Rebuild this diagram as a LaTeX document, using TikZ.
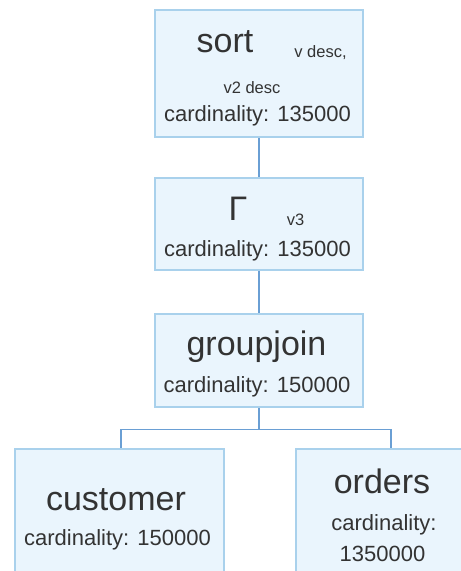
\documentclass[tikz,border=0pt]{standalone}
\usepackage{fontspec}
\setmainfont{Liberation Sans}
\definecolor{boxfill}{HTML}{EAF5FD}
\definecolor{boxline}{HTML}{A9D1EC}
\definecolor{connc}{HTML}{6A9FD4}
\definecolor{txt}{HTML}{333333}
\tikzset{
  opbox/.style={draw=boxline, fill=boxfill, line width=2.5pt, inner sep=0pt, rectangle},
  conn/.style={draw=connc, line width=1.3pt},
  big/.style={font=\fontsize{34}{40}\selectfont, text=txt, anchor=base, inner sep=0pt},
  card/.style={font=\fontsize{22}{26}\selectfont, text=txt, anchor=base, inner sep=0pt},
  subl/.style={font=\fontsize{16.5}{20}\selectfont, text=txt, anchor=base, inner sep=0pt}
}
\begin{document}
\begin{tikzpicture}[x=1pt,y=-1pt]
\useasboundingbox (0,0) rectangle (461,571);
\clip (0,0) rectangle (461,571);
% boxes
\node[opbox, minimum width=208pt, minimum height=127pt] (sort) at (259,73.5) {};
\node[opbox, minimum width=208pt, minimum height=92pt] (gamma) at (259,224) {};
\node[opbox, minimum width=208pt, minimum height=93pt] (gj) at (259,360.5) {};
\node[opbox, minimum width=209pt, minimum height=160pt] (cust) at (119.5,529) {};
\node[opbox, minimum width=174pt, minimum height=160pt] (ord) at (383,529) {};
% connectors
\draw[conn] (sort.south) -- (gamma.north);
\draw[conn] (gamma.south) -- (gj.north);
\draw[conn] (gj.south) -- ++(0,21) coordinate (mid);
\draw[conn] (mid) -| ([xshift=1.5pt]cust.north);
\draw[conn] (mid) -| ([xshift=8pt]ord.north);
% texts
\node[big] (tsort) at (225,52) {sort};
\node[subl] (tv) at (320.5,57) {v desc,};
\node[subl] (tv2) at (252,93) {v2 desc};
\node[card] (c1) at (257.5,121.5) {cardinality: 135000};
\node[big] (tg) at (238,220) {Γ};
\node[subl] (tv3) at (295.5,225) {v3};
\node[card] (c2) at (257.5,256.5) {cardinality: 135000};
\node[big] (tgj) at (256.5,355) {groupjoin};
\node[card] (c3) at (257,392.5) {cardinality: 150000};
\node[big] (tc) at (116,510) {customer};
\node[card] (c4) at (117.5,545) {cardinality: 150000};
\node[big] (to) at (382,493) {orders};
\node[card] (c5) at (384,530) {cardinality:};
\node[card] (c6) at (382.5,561) {1350000};
\end{tikzpicture}
\end{document}
